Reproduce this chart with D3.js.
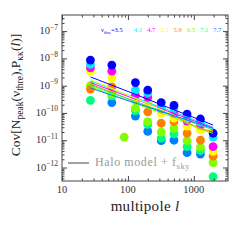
<!DOCTYPE html>
<html>
<head>
<meta charset="utf-8">
<style>
  body { margin: 0; background: #fff; }
  svg text { font-family: "Liberation Serif", serif; }
</style>
</head>
<body>
<script src="https://cdn.jsdelivr.net/npm/d3@7"></script>
<script>
// thresholds nu_thre and multipole bins
var thresholds = ["3.5", "4.1", "4.7", "5.3", "5.9", "6.5", "7.1", "7.7"];
var ells = [27, 57, 88, 130, 200, 320, 500, 790, 1260, 1960];

// measured covariance (null = not shown)
var cov35 = [8.7e-9, 5.7e-9, null, 1.3e-9, 6.9e-10, 2.4e-10, 1.9e-10, 9.1e-11, 6.0e-11, 1.8e-11];
var cov41 = [6.0e-9, null, null, 6.9e-10, 5.4e-10, 1.7e-10, 1.5e-10, 6.5e-11, 4.6e-11, 1.3e-11];
var cov47 = [4.5e-9, 3.4e-9, null, 4.5e-10, 3.7e-10, 1.4e-10, 9.5e-11, 5.0e-11, 3.6e-11, 5.8e-12];
var cov53 = [3.4e-9, 1.9e-9, null, 3.5e-10, 2.3e-10, 9.9e-11, 6.5e-11, 3.3e-11, 2.4e-11, 3.9e-12];
var cov59 = [7.5e-10, 9.0e-10, null, 3.0e-10, 1.1e-10, 4.2e-11, 4.8e-11, 1.8e-11, 1.0e-11, 2.6e-12];
var cov65 = [1.0e-9, 4.9e-10, 1.3e-11, 1.5e-10, 4.8e-11, 2.0e-11, 2.7e-11, 9.6e-12, 5.6e-12, 1.5e-12];
var cov71 = [2.9e-10, 4.2e-10, null, 1.2e-10, 3.8e-11, 1.2e-11, 1.7e-11, 5.8e-12, 4.2e-12, 4.6e-13];
var cov77 = [null, 2.4e-10, null, 7.7e-11, 2.1e-11, 9.6e-12, 1.0e-11, 3.5e-12, 3.1e-12, null];

// halo model + f_sky
var modelElls = [27, 130, 500, 1260, 1960];
var model35 = [2.1e-9, 4.8e-10, 1.3e-10, 5.5e-11, 3.6e-11];
var model41 = [1.5e-9, 3.6e-10, 1.07e-10, 4.6e-11, 3.0e-11];
var model47 = [1.3e-9, 3.2e-10, 9.5e-11, 4.2e-11, 2.8e-11];
var model53 = [1.7e-9, 3.4e-10, 8.4e-11, 2.6e-11, 2.2e-11];
var model59 = [1.15e-9, 2.6e-10, 7.7e-11, 2.6e-11, 2.1e-11];
var model65 = [9.3e-10, 2.2e-10, 6.8e-11, 2.5e-11, 1.8e-11];
var model71 = [1.05e-9, 2.6e-10, 8.0e-11, 3.5e-11, 2.4e-11];
var model77 = [8.2e-10, 2.3e-10, 8.0e-11, 3.8e-11, 2.7e-11];

var xTicks = [10, 100, 1000];
var yTicks = [1e-12, 1e-11, 1e-10, 1e-9, 1e-8, 1e-7];

var covs = [cov35, cov41, cov47, cov53, cov59, cov65, cov71, cov77];
var models = [model35, model41, model47, model53, model59, model65, model71, model77];
var colors = ["#0000ff", "#00e8ff", "#ff00ff", "#ffff00", "#ff8000", "#80ff00", "#00ff80", "#0080ff"];

var L = 62, R = 228, T = 15, B = 181;
var svg = d3.select("body").append("svg").attr("width", 240).attr("height", 240);

var x = d3.scaleLog().domain([10, 3300]).range([L, R]);
var y = d3.scaleLog().domain([3.2e-13, 3.9e-7]).range([B, T]);

// dots, last threshold drawn first
var gd = svg.append("g");
d3.range(covs.length).reverse().forEach(function(i) {
  var pts = ells.map((l, j) => [l, covs[i][j]]).filter(d => d[1] != null);
  gd.selectAll(null).data(pts).join("circle")
    .attr("cx", d => x(d[0]))
    .attr("cy", d => y(d[1]))
    .attr("r", 4.4)
    .attr("fill", colors[i]);
});

// model lines
var line = d3.line().x(d => x(d[0])).y(d => y(d[1]));
var gl = svg.append("g").attr("fill", "none").attr("stroke-width", 1);
models.forEach(function(m, i) {
  gl.append("path")
    .attr("d", line(modelElls.map((l, j) => [l, m[j]])))
    .attr("stroke", colors[i]);
});

// ticks on all four sides
var xMinor = x.ticks().filter(v => xTicks.indexOf(v) < 0);
var yMinor = y.ticks().filter(v => yTicks.every(t => Math.abs(v / t - 1) > 1e-6));
function ticks(ax, tr) {
  svg.append("g").attr("transform", tr).call(ax)
    .call(g => g.select(".domain").remove())
    .call(g => g.selectAll("line").attr("stroke", "#444"));
}
ticks(d3.axisBottom(x).tickValues(xTicks).tickSize(-5).tickFormat(""), `translate(0,${B})`);
ticks(d3.axisBottom(x).tickValues(xMinor).tickSize(-2.5).tickFormat(""), `translate(0,${B})`);
ticks(d3.axisTop(x).tickValues(xTicks).tickSize(-5).tickFormat(""), `translate(0,${T})`);
ticks(d3.axisTop(x).tickValues(xMinor).tickSize(-2.5).tickFormat(""), `translate(0,${T})`);
ticks(d3.axisLeft(y).tickValues(yTicks).tickSize(-5).tickFormat(""), `translate(${L},0)`);
ticks(d3.axisLeft(y).tickValues(yMinor).tickSize(-2.5).tickFormat(""), `translate(${L},0)`);
ticks(d3.axisRight(y).tickValues(yTicks).tickSize(-5).tickFormat(""), `translate(${R},0)`);
ticks(d3.axisRight(y).tickValues(yMinor).tickSize(-2.5).tickFormat(""), `translate(${R},0)`);

svg.append("rect")
  .attr("x", L).attr("y", T).attr("width", R - L).attr("height", B - T)
  .attr("fill", "none").attr("stroke", "#444").attr("stroke-width", 1);

// tick labels
svg.append("g").selectAll("text").data(xTicks).join("text")
  .attr("x", d => x(d)).attr("y", 193)
  .attr("text-anchor", "middle").attr("font-size", 10.5).attr("fill", "#333")
  .text(d => d);

var yl = svg.append("g").selectAll("text").data(yTicks).join("text")
  .attr("x", 58).attr("y", d => y(d) + 3)
  .attr("text-anchor", "end").attr("font-size", 10.5).attr("fill", "#333");
yl.append("tspan").text("10");
yl.append("tspan").attr("dy", -4.5).attr("font-size", 7.5)
  .text(d => "\u2212" + Math.round(-Math.log10(d)));

// axis titles
var xt = svg.append("text").attr("x", 145).attr("y", 211)
  .attr("text-anchor", "middle").attr("font-size", 15).attr("letter-spacing", 0.3)
  .attr("fill", "#222");
xt.append("tspan").text("multipole ");
xt.append("tspan").attr("font-style", "italic").text("l");

var yt = svg.append("text").attr("transform", "translate(20,95) rotate(-90)")
  .attr("text-anchor", "middle").attr("font-size", 13.5).attr("fill", "#222");
yt.append("tspan").text("Cov[N");
yt.append("tspan").attr("dy", 3).attr("font-size", 9.5).text("peak");
yt.append("tspan").attr("dy", -3).text("(\u03bd");
yt.append("tspan").attr("dy", 3).attr("font-size", 9.5).text("thre");
yt.append("tspan").attr("dy", -3).text("),P");
yt.append("tspan").attr("dy", 3).attr("font-size", 9.5).text("\u03ba\u03ba");
yt.append("tspan").attr("dy", -3).text("(");
yt.append("tspan").attr("font-style", "italic").text("l");
yt.append("tspan").text(")]");

// threshold legend
var lg = svg.append("g").attr("font-size", 6.5)
  .style("font-family", "'DejaVu Sans', sans-serif");
lg.append("text").attr("x", 101).attr("y", 32).attr("fill", colors[0])
  .call(t => {
    t.append("tspan").text("\u03bd");
    t.append("tspan").attr("dy", 1.5).attr("font-size", 4.5).text("thre");
    t.append("tspan").attr("dy", -1.5).text("=3.5");
  });
thresholds.slice(1).forEach(function(s, i) {
  lg.append("text").attr("x", 134 + i * 13.2).attr("y", 32)
    .attr("fill", colors[i + 1]).text(s);
});

// halo model legend
svg.append("line").attr("x1", 68).attr("x2", 89).attr("y1", 163).attr("y2", 163)
  .attr("stroke", "#444").attr("stroke-width", 1);
var hl = svg.append("text").attr("x", 95).attr("y", 166)
  .attr("font-size", 12).attr("letter-spacing", 0.6).attr("fill", "#999");
hl.append("tspan").text("Halo model + f");
hl.append("tspan").attr("dy", 3).attr("font-size", 8.5).text("sky");
</script>
</body>
</html>
